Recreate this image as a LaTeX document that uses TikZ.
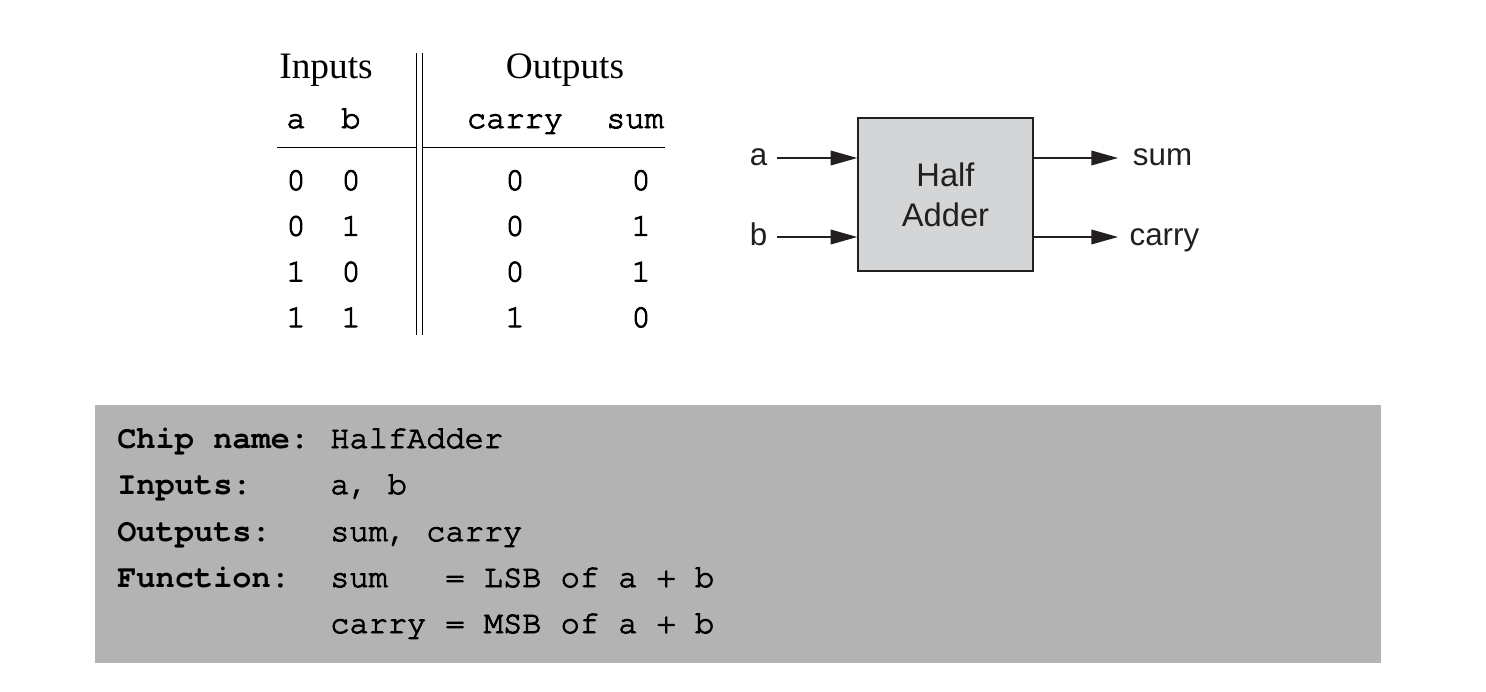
\documentclass[tikz,border=0pt]{standalone}
\usepackage{fontspec}
\setmainfont{Liberation Serif}
\setsansfont{Liberation Sans}
\setmonofont{texgyrecursor}[Extension=.otf, UprightFont=*-regular, BoldFont=*-bold, UprightFeatures={FakeBold=3}]
\usepackage{tikz}
\usetikzlibrary{positioning,arrows.meta}

\definecolor{panelgray}{HTML}{B3B3B3}
\definecolor{chipgray}{HTML}{D4D5D7}
\definecolor{ink}{HTML}{231F20}

\begin{document}
\begin{tikzpicture}[
			x=0.75pt, y=-0.75pt,
			headnode/.style={anchor=base, inner sep=0pt, font=\fontsize{28}{32}\selectfont},
			bitnode/.style={anchor=base, inner sep=0pt, font=\ttfamily\fontsize{24}{28}\selectfont},
			signode/.style={inner sep=0pt, text=ink, font=\sffamily\fontsize{23.5}{30}\selectfont},
			chipnode/.style={rectangle, draw=ink, fill=chipgray, line width=1.1pt, minimum width=131.25pt, minimum height=114.75pt, align=center, text=ink, font=\sffamily\fontsize{24.5}{30}\selectfont},
			wire/.style={draw=ink, line width=1.1pt, -{Triangle[length=20pt, width=11pt]}},
			rule/.style={line width=1pt},
			panelnode/.style={rectangle, fill=panelgray, inner sep=0pt, minimum width=964.5pt, minimum height=193.5pt},
			codenode/.style={anchor=base west, inner sep=0pt, font=\ttfamily\fontsize{24}{28}\selectfont},
		]
			\useasboundingbox (0,0) rectangle (1486,692);

			%Truth table
			\node[headnode]	(inputs)	at (326,79)	{Inputs};
			\node[headnode]	(outputs)	at (565,79)	{Outputs};
			\node[bitnode]	(ha)		at (296,128)	{a};
			\node[bitnode]	(hb)		at (351,128)	{b};
			\node[bitnode]	(hcarry)	at (515,128)	{carry};
			\node[bitnode]	(hsum)		at (635,128)	{sum};
			\foreach \va/\vb/\vc/\vs [count=\i] in {0/0/0/0, 0/1/0/1, 1/0/0/1, 1/1/1/0} {
				\node[bitnode]	(a\i)	at (296,{144.3+45.7*\i})	{\va};
				\node[bitnode]	(b\i)	at (351,{144.3+45.7*\i})	{\vb};
				\node[bitnode]	(c\i)	at (515,{144.3+45.7*\i})	{\vc};
				\node[bitnode]	(s\i)	at (641,{144.3+45.7*\i})	{\vs};
			}

			%Rules
			\coordinate (vtop) at (416.7,53);
			\coordinate (vbot) at (416.7,335);
			\draw[rule]	(vtop) -- (vbot);
			\draw[rule]	([xshift=4.2pt]vtop) -- ([xshift=4.2pt]vbot);
			\draw[rule]	(277,147.3) -- (416.7,147.3);
			\draw[rule]	(422.3,147.3) -- (665,147.3);

			%Chip
			\node[chipnode]	(chip)	at (945.5,194.5)	{Half\\Adder};
			\coordinate (ina) at (777,158);
			\coordinate (inb) at (777,237);
			\coordinate (outsum) at (1118,158);
			\coordinate (outcarry) at (1118,237);
			\node[signode, anchor=base east]	(la)		at ([xshift=-7pt,yshift=-6pt]ina)		{a};
			\node[signode, anchor=base east]	(lb)		at ([xshift=-7pt,yshift=-6pt]inb)		{b};
			\node[signode, anchor=base west]	(lsum)		at ([xshift=11pt,yshift=-6pt]outsum)	{sum};
			\node[signode, anchor=base west]	(lcarry)	at ([xshift=8.5pt,yshift=-6pt]outcarry)	{carry};

			%Lines
			\draw[wire]	(ina) -- (ina -| chip.west);
			\draw[wire]	(inb) -- (inb -| chip.west);
			\draw[wire]	(chip.east |- outsum) -- (outsum);
			\draw[wire]	(chip.east |- outcarry) -- (outcarry);

			%API box
			\node[panelnode]	(panel)	at (738,534)	{};
			\node[codenode, font=\ttfamily\bfseries\fontsize{24}{28}\selectfont]	(kname)	at (117,448)	{Chip name:};
			\node[codenode, font=\ttfamily\bfseries\fontsize{24}{28}\selectfont]	(kin)	at (117,494)	{Inputs:};
			\node[codenode, font=\ttfamily\bfseries\fontsize{24}{28}\selectfont]	(kout)	at (117,541)	{Outputs:};
			\node[codenode, font=\ttfamily\bfseries\fontsize{24}{28}\selectfont]	(kfun)	at (117,587)	{Function:};
			\node[codenode]	(vname)		at (330,448)	{HalfAdder};
			\node[codenode]	(vin)		at (330,494)	{a, b};
			\node[codenode]	(vout)		at (330,541)	{sum, carry};
			\node[codenode]	(vsum)		at (330,587)	{sum\ \ \ = LSB of a + b};
			\node[codenode]	(vcarry)	at (330,633)	{carry = MSB of a + b};

		\end{tikzpicture}
\end{document}
